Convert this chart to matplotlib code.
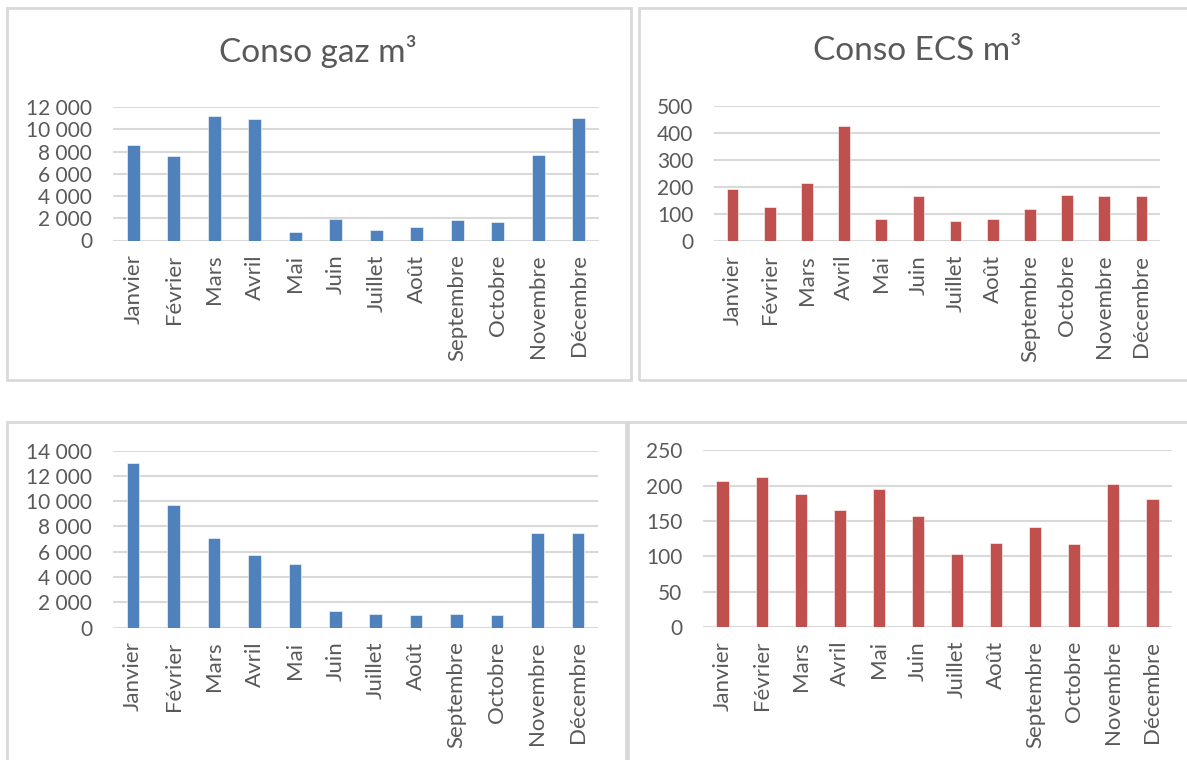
import matplotlib
matplotlib.use("Agg")
import matplotlib.pyplot as plt
from matplotlib.patches import Rectangle

months = ["Janvier", "Février", "Mars", "Avril", "Mai", "Juin", "Juillet",
          "Août", "Septembre", "Octobre", "Novembre", "Décembre"]

gaz_1 = [8600, 7600, 11200, 10900, 800, 1900, 900, 1200, 1800, 1700, 7700, 11000]
ecs_1 = [192, 125, 214, 425, 82, 167, 75, 83, 120, 170, 168, 168]
gaz_2 = [13000, 9700, 7100, 5750, 5000, 1300, 1050, 950, 1100, 1000, 7500, 7500]
ecs_2 = [207, 212, 188, 166, 195, 157, 104, 119, 141, 117, 202, 181]

title_1 = "Conso gaz m³"
title_2 = "Conso ECS m³"

BLUE = "#4F81BD"
RED = "#C0504D"
GRID = "#D9D9D9"
TXT = "#595959"
W, H = 1187, 760

plt.rcParams['font.family'] = ['Lato', 'DejaVu Sans']

fig = plt.figure(figsize=(W / 100, H / 100), dpi=100)
fig.patch.set_facecolor("white")


def px_axes(x0, y0, x1, y1):
    return fig.add_axes([x0 / W, 1 - y1 / H, (x1 - x0) / W, (y1 - y0) / H])


def box(x0, y0, x1, y1):
    fig.patches.append(Rectangle((x0 / W, 1 - y1 / H), (x1 - x0) / W, (y1 - y0) / H,
                                 transform=fig.transFigure, fill=False,
                                 edgecolor=GRID, linewidth=2.0, zorder=0))


def fmt(v):
    return f"{int(v):,}".replace(",", " ")


def panel(ax, values, color, ymax, step):
    x = list(range(len(months)))
    ax.bar(x, values, width=0.31, color=color, edgecolor="#FFFFFF", linewidth=0.4, zorder=3)
    ax.set_xlim(-0.5, len(months) - 0.5)
    ax.set_ylim(0, ymax)
    ticks = list(range(0, ymax + 1, step))
    ax.set_yticks(ticks)
    ax.set_yticklabels([fmt(t) for t in ticks], fontsize=15, color=TXT)
    ax.set_xticks(x)
    ax.set_xticklabels(months, rotation=90, fontsize=16, color=TXT)
    ax.tick_params(axis="both", length=0)
    ax.tick_params(axis="y", pad=15)
    ax.tick_params(axis="x", pad=10)
    for s in ax.spines.values():
        s.set_visible(False)
    ax.grid(axis="y", color=GRID, linewidth=1.5, zorder=0)
    ax.set_axisbelow(True)
    ax.patch.set_alpha(0)


# boxes
box(7, 8, 631, 380)
box(639, 8, 1192, 380)
box(7, 422, 626, 775)
box(628, 422, 1192, 775)

ax1 = px_axes(113, 107, 599, 240.5)
panel(ax1, gaz_1, BLUE, 12000, 2000)
fig.text(318 / W, 1 - 51 / H, title_1, ha="center", va="center", fontsize=24, color=TXT)

ax2 = px_axes(714, 106, 1160, 241)
panel(ax2, ecs_1, RED, 500, 100)
fig.text(917 / W, 1 - 51 / H, title_2, ha="center", va="center", fontsize=24, color=TXT)

ax3 = px_axes(113, 450.5, 598, 627.5)
panel(ax3, gaz_2, BLUE, 14000, 2000)

ax4 = px_axes(703, 450.5, 1172, 627)
panel(ax4, ecs_2, RED, 250, 50)

fig.savefig("out.png", dpi=100, facecolor="white")
